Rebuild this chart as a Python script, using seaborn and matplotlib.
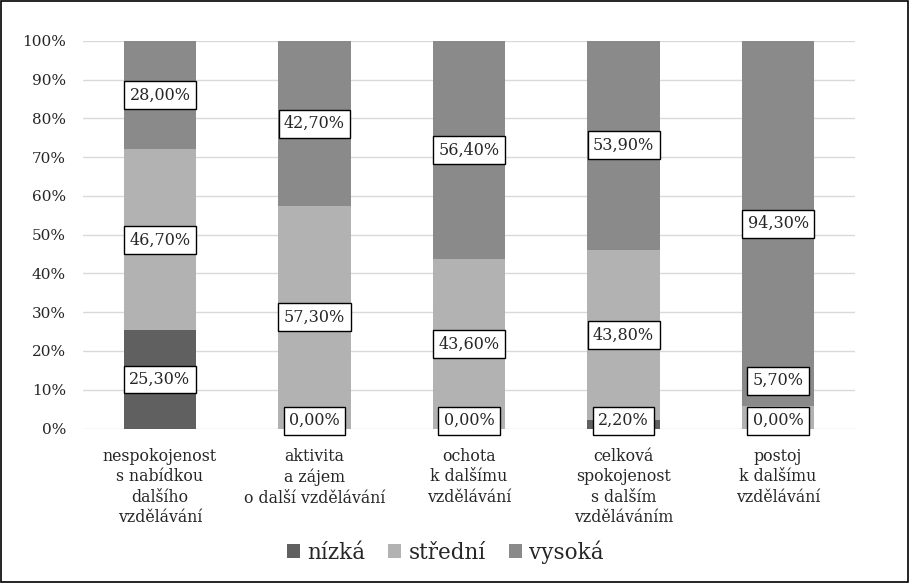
import matplotlib
matplotlib.use("Agg")
import matplotlib.pyplot as plt
import seaborn as sns
import numpy as np
import pandas as pd
from matplotlib.patches import Patch, Rectangle

categories = ["nespokojenost\ns nabídkou\ndalšího\nvzdělávání",
              "aktivita\na zájem\no další vzdělávání",
              "ochota\nk dalšímu\nvzdělávání",
              "celková\nspokojenost\ns dalším\nvzděláváním",
              "postoj\nk dalšímu\nvzdělávání"]
series_names = ["nízká", "střední", "vysoká"]
nizka = [25.3, 0.0, 0.0, 2.2, 0.0]
stredni = [46.7, 57.3, 43.6, 43.8, 5.7]
vysoka = [28.0, 42.7, 56.4, 53.9, 94.3]
colors = ["#606060", "#b2b2b2", "#8a8a8a"]
yticks = [0, 10, 20, 30, 40, 50, 60, 70, 80, 90, 100]

sns.set_theme(style="white")
plt.rcParams['font.family'] = ['DejaVu Serif']

fig = plt.figure(figsize=(9.09, 5.83), dpi=100)
ax = fig.add_axes([0.091, 0.265, 0.85, 0.665])

vals = np.array([nizka, stredni, vysoka])
totals = vals.sum(axis=0)
pct = vals / totals * 100

cum = np.cumsum(pct, axis=0)
for i in reversed(range(3)):
    df = pd.DataFrame({"cat": categories, "val": cum[i]})
    sns.barplot(data=df, x="cat", y="val", color=colors[i], width=0.47,
                ax=ax, zorder=3, saturation=1, errorbar=None, linewidth=0)

# labels
bottom = np.zeros(len(categories))
prev = np.full(len(categories), -100.0)
for i in range(3):
    for j in range(len(categories)):
        c = bottom[j] + pct[i][j] / 2
        c = max(c, 2.0)
        if c - prev[j] < 8.0:
            c = prev[j] + 10.3
        prev[j] = c
        ax.text(j, c, f"{vals[i][j]:.2f}%".replace(".", ","), ha="center", va="center",
                fontsize=11.5, zorder=10,
                bbox=dict(boxstyle="square,pad=0.34", fc="white", ec="black", lw=1.0))
    bottom += pct[i]

ax.set_ylim(0, 100)
ax.set_xlim(-0.5, len(categories) - 0.5)
ax.set_yticks(yticks)
ax.set_yticklabels([f"{t}%" for t in yticks], fontsize=11)
ax.set_xticks(range(len(categories)))
ax.set_xticklabels(categories, fontsize=11.3, linespacing=1.27)
ax.tick_params(axis="x", length=0, pad=14)
ax.tick_params(axis="y", length=0, pad=12)
ax.set_xlabel("")
ax.set_ylabel("")
ax.grid(axis="y", color="#d9d9d9", lw=1.0, zorder=0)
ax.set_axisbelow(True)
for s in ax.spines.values():
    s.set_visible(False)

handles = [Patch(facecolor=colors[i], edgecolor="none", label=series_names[i]) for i in range(3)]
fig.legend(handles=handles, loc="center", bbox_to_anchor=(0.49, 0.053), ncol=3,
           frameon=False, fontsize=15.5, handlelength=0.6, handleheight=0.6,
           handletextpad=0.36, columnspacing=1.05)

fig.add_artist(Rectangle((0.001, 0.001), 0.998, 0.998, transform=fig.transFigure,
                         fill=False, ec="black", lw=1.2))

fig.savefig("out.png", dpi=100)
